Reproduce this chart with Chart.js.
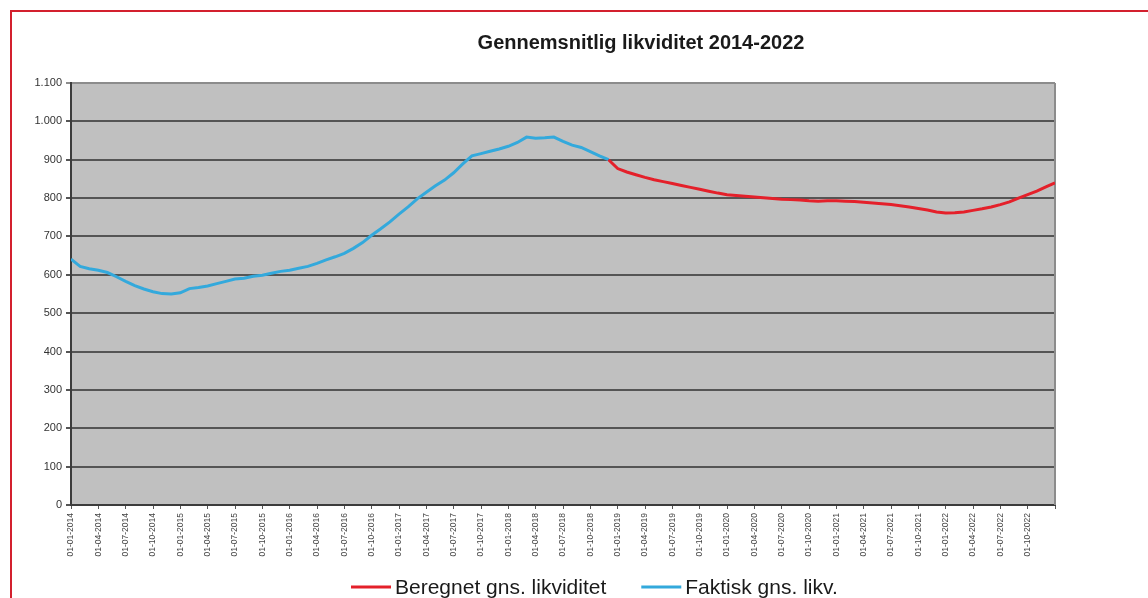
<!DOCTYPE html>
<html>
<head>
<meta charset="utf-8">
<title>Gennemsnitlig likviditet 2014-2022</title>
<script src="https://cdn.jsdelivr.net/npm/chart.js@4.4.1/dist/chart.umd.min.js"></script>
<style>
  html, body { margin: 0; padding: 0; background: #fff; }
  #wrap { position: relative; width: 1148px; height: 598px; overflow: hidden; }
  #frame { position: absolute; left: 10px; top: 10px; width: 1200px; height: 700px;
           border-top: 2px solid #d3202e; border-left: 2px solid #d3202e; }
  #chart { position: absolute; left: 0; top: 0; }
</style>
</head>
<body>
<div id="wrap">
  <div id="frame"></div>
  <canvas id="chart" width="1148" height="598"></canvas>
</div>
<script>
// Titel og serienavne
const chartTitle = "Gennemsnitlig likviditet 2014-2022";
const beregnetLabel = "Beregnet gns. likviditet";
const faktiskLabel = "Faktisk gns. likv.";

// Kvartalsvise tekster på x-aksen (hver 3. måned)
const tickLabels = [
  "01-01-2014", "01-04-2014", "01-07-2014", "01-10-2014",
  "01-01-2015", "01-04-2015", "01-07-2015", "01-10-2015",
  "01-01-2016", "01-04-2016", "01-07-2016", "01-10-2016",
  "01-01-2017", "01-04-2017", "01-07-2017", "01-10-2017",
  "01-01-2018", "01-04-2018", "01-07-2018", "01-10-2018",
  "01-01-2019", "01-04-2019", "01-07-2019", "01-10-2019",
  "01-01-2020", "01-04-2020", "01-07-2020", "01-10-2020",
  "01-01-2021", "01-04-2021", "01-07-2021", "01-10-2021",
  "01-01-2022", "01-04-2022", "01-07-2022", "01-10-2022"
];

// Faktisk gns. likviditet, måned for måned fra jan 2014 (måned 0)
const faktiskValues = [
  641, 622, 616, 612, 606, 595, 583, 572, 563, 556, 551, 550,
  553, 564, 567, 571, 577, 583, 589, 591, 596, 599, 604, 609,
  612, 617, 622, 630, 639, 647, 656, 669, 684, 703, 720, 738,
  758, 777, 798, 815, 832, 847, 866, 889, 910, 916, 922, 928,
  935, 945, 959, 956, 957, 959, 948, 938, 932, 921, 910, 900
];

// Beregnet gns. likviditet, starter i måned 59 (dec 2018)
const beregnetStart = 59;
const beregnetValues = [
  900, 877, 868, 861, 854, 848, 843, 838, 833, 828, 823, 818, 813,
  809, 807, 805, 803, 801, 799, 797, 796, 795, 793, 792, 793,
  793, 792, 791, 789, 787, 785, 783, 780, 777, 773, 769, 764,
  761, 762, 764, 768, 772, 777, 783, 790, 800, 809, 818, 829, 840
];

const yMax = 1100;
const yStep = 100;
const fontFamily = '"Liberation Sans", Arial, sans-serif';

// Tusindtalsseparator med punktum (1.100)
function formatThousands(v) {
  const s = String(v);
  return s.length > 3 ? s.slice(0, -3) + "." + s.slice(-3) : s;
}

// Grå baggrund i plotområdet
const plotBackground = {
  id: "plotBackground",
  beforeDraw(chart) {
    const { ctx, chartArea: a } = chart;
    ctx.save();
    ctx.fillStyle = "#c0c0c0";
    ctx.fillRect(a.left, a.top, a.width, a.height);
    ctx.restore();
  },
  beforeDatasetsDraw(chart) {
    const { ctx, chartArea: a } = chart;
    ctx.save();
    ctx.strokeStyle = "#8c8c8c";
    ctx.lineWidth = 2;
    ctx.beginPath();
    ctx.moveTo(a.right, a.top);
    ctx.lineTo(a.right, a.bottom);
    ctx.stroke();
    ctx.restore();
  }
};

// Titel og signaturforklaring som i Excel-grafen
const titleAndLegend = {
  id: "titleAndLegend",
  afterDraw(chart) {
    const ctx = chart.ctx;
    ctx.save();
    ctx.fillStyle = "#1a1a1a";
    ctx.font = "bold 20px " + fontFamily;
    ctx.textAlign = "center";
    ctx.textBaseline = "alphabetic";
    ctx.fillText(chartTitle, 641, 49);

    ctx.font = "21px " + fontFamily;
    ctx.textAlign = "left";
    let x = 351;
    const y = 587;
    chart.data.datasets.forEach(function (ds) {
      ctx.strokeStyle = ds.borderColor;
      ctx.lineWidth = 3;
      ctx.beginPath();
      ctx.moveTo(x, y);
      ctx.lineTo(x + 40, y);
      ctx.stroke();
      ctx.fillStyle = "#1a1a1a";
      ctx.fillText(ds.label, x + 44, 594);
      x += 44 + ctx.measureText(ds.label).width + 35;
    });
    ctx.restore();
  }
};

const beregnetPoints = beregnetValues.map((v, i) => ({ x: beregnetStart + i, y: v }));
const faktiskPoints = faktiskValues.map((v, i) => ({ x: i, y: v }));

const ctx = document.getElementById("chart").getContext("2d");
const myChart = new Chart(ctx, {
  type: "line",
  data: {
    datasets: [
      {
        label: beregnetLabel,
        data: beregnetPoints,
        borderColor: "#e4202a",
        borderWidth: 3,
        pointRadius: 0,
        tension: 0
      },
      {
        label: faktiskLabel,
        data: faktiskPoints,
        borderColor: "#33a9dc",
        borderWidth: 3,
        pointRadius: 0,
        tension: 0
      }
    ]
  },
  options: {
    responsive: false,
    animation: false,
    layout: { padding: { top: 83, left: 11, right: 93, bottom: 33 } },
    plugins: {
      legend: { display: false },
      title: { display: false },
      tooltip: { enabled: false }
    },
    scales: {
      x: {
        type: "linear",
        min: 0,
        max: tickLabels.length * 3,
        afterFit(scale) { scale.height = 60; },
        border: { color: "#3c3c3c", width: 2 },
        grid: { drawOnChartArea: false, drawTicks: true, tickLength: 4, color: "#555" },
        ticks: {
          stepSize: 3,
          autoSkip: false,
          maxRotation: 90,
          minRotation: 90,
          padding: 4,
          color: "#444",
          font: { size: 8.5, family: fontFamily },
          callback: (v) => tickLabels[v / 3] || ""
        }
      },
      y: {
        min: 0,
        max: yMax,
        afterFit(scale) { scale.width = 60; },
        border: { color: "#3c3c3c", width: 2 },
        grid: {
          color: (c) => (c.tick && c.tick.value === yMax ? "#8c8c8c" : "#555"),
          lineWidth: 2,
          tickLength: 5
        },
        ticks: {
          stepSize: yStep,
          padding: 4,
          color: "#333",
          font: { size: 11, family: fontFamily },
          callback: (v) => formatThousands(v)
        }
      }
    }
  },
  plugins: [plotBackground, titleAndLegend]
});
</script>
</body>
</html>
